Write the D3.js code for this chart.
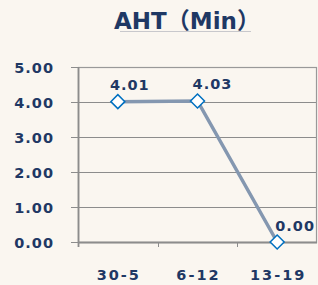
<!DOCTYPE html>
<html lang="en">
<meta charset="utf-8">
<head>
	<title>AHT</title>
</head>
<style type="text/css">
	body { margin: 0; background: #FAF6F0; }
	.title { font-family: 'DejaVu Sans', 'Noto Sans CJK SC', sans-serif; font-weight: bold; font-size: 23px; fill: #1F3864; }
	.tick { font-family: 'DejaVu Sans', sans-serif; font-weight: bold; font-size: 14.5px; fill: #1F3864; letter-spacing: 1px; }
	.xtick { font-family: 'DejaVu Sans', sans-serif; font-weight: bold; font-size: 14.5px; fill: #1F3864; letter-spacing: 2px; }
	.lbl { font-family: 'DejaVu Sans', sans-serif; font-weight: bold; font-size: 14.5px; fill: #1F3864; letter-spacing: 1px; }
	.grid { stroke: #8c8c8c; stroke-width: 1; }
	.line { fill: none; stroke: #8497B0; stroke-width: 3.5; }
	.marker { fill: white; stroke: #0070C0; stroke-width: 1.5; }
</style>
<script src="https://d3js.org/d3.v7.min.js"></script>
<body>
	<script type="text/javascript">

		var categories = ["30-5", "6-12", "13-19"];
		var values = [4.01, 4.03, 0.00];
		var yTicks = [0, 1, 2, 3, 4, 5];

		var w = 318, h = 285,
			plotL = 78, plotR = 317, plotT = 67, plotB = 242;

		var svg = d3.select("body").append("svg")
					.attr("width", w)
					.attr("height", h);

		svg.append("rect")
		   .attr("width", w).attr("height", h)
		   .attr("fill", "#FAF6F0");

		var x = d3.scaleBand().domain(categories).range([plotL, plotR]);
		var y = d3.scaleLinear().domain([0, 5]).range([plotB, plotT]);

		// title + faint underline
		svg.append("text")
		   .attr("class", "title")
		   .attr("text-anchor", "middle")
		   .attr("x", 187)
		   .attr("y", 29)
		   .text("AHT（Min）");
		svg.append("line")
		   .attr("x1", 120).attr("x2", 251)
		   .attr("y1", 31.5).attr("y2", 31.5)
		   .attr("stroke", "#c8c8cc").attr("stroke-width", 1);

		// gridlines and y ticks
		yTicks.forEach(function(t) {
			svg.append("line")
			   .attr("class", "grid")
			   .attr("x1", plotL - 7).attr("x2", plotR)
			   .attr("y1", Math.round(y(t)) + 0.5).attr("y2", Math.round(y(t)) + 0.5);
			svg.append("text")
			   .attr("class", "tick")
			   .attr("text-anchor", "end")
			   .attr("x", 54)
			   .attr("y", y(t) + 5.5)
			   .text(t.toFixed(2));
		});

		// plot border
		svg.append("rect")
		   .attr("x", plotL + 0.5).attr("y", plotT + 0.5)
		   .attr("width", plotR - plotL - 1).attr("height", plotB - plotT)
		   .attr("fill", "none")
		   .attr("stroke", "#999").attr("stroke-width", 1.2);

		// left axis and bottom axis
		svg.append("line")
		   .attr("x1", plotL + 0.5).attr("x2", plotL + 0.5)
		   .attr("y1", plotT).attr("y2", plotB + 5)
		   .attr("stroke", "#8c8c8c").attr("stroke-width", 1.8);
		svg.append("line")
		   .attr("x1", plotL).attr("x2", plotR)
		   .attr("y1", plotB + 0.5).attr("y2", plotB + 0.5)
		   .attr("stroke", "#8c8c8c").attr("stroke-width", 1.8);

		// category boundary ticks
		categories.forEach(function(c, i) {
			if (i == 0) return;
			var bx = Math.round(x(c)) + 0.5;
			svg.append("line")
			   .attr("x1", bx).attr("x2", bx)
			   .attr("y1", plotB).attr("y2", plotB + 5)
			   .attr("stroke", "#8c8c8c").attr("stroke-width", 1);
		});

		// x labels
		svg.selectAll(".xl")
		   .data(categories)
		   .enter().append("text")
		   .attr("class", "xtick")
		   .attr("text-anchor", "middle")
		   .attr("x", function(d) { return x(d) + x.bandwidth() / 2 + 1; })
		   .attr("y", 280)
		   .text(function(d) { return d; });

		var pts = categories.map(function(c, i) {
			return [x(c) + x.bandwidth() / 2, y(values[i])];
		});

		svg.append("path")
		   .datum(pts)
		   .attr("class", "line")
		   .attr("d", d3.line());

		var s = 7;
		svg.selectAll(".marker")
		   .data(pts)
		   .enter().append("path")
		   .attr("class", "marker")
		   .attr("d", function(d) {
		   	return "M" + d[0] + "," + (d[1] - s) + "L" + (d[0] + s) + "," + d[1] +
		   		"L" + d[0] + "," + (d[1] + s) + "L" + (d[0] - s) + "," + d[1] + "Z";
		   });

		// data labels
		svg.selectAll(".lbl")
		   .data(pts)
		   .enter().append("text")
		   .attr("class", "lbl")
		   .attr("text-anchor", "middle")
		   .attr("x", function(d, i) { return d[0] + 12 + i * 3; })
		   .attr("y", function(d) { return d[1] - 11.5; })
		   .text(function(d, i) { return values[i].toFixed(2); });

	</script>
</body>
</html>
